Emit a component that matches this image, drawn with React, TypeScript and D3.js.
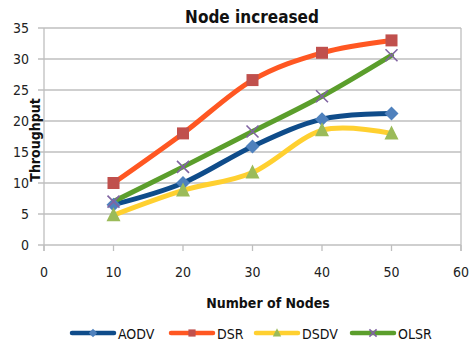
import React from "react";
import * as d3 from "d3";

const xValues = [10, 20, 30, 40, 50];
const aodv = [6.5, 10, 15.9, 20.3, 21.2];
const dsr = [10, 18, 26.6, 31, 33];
const dsdv = [4.8, 8.8, 11.7, 18.5, 18];
const olsr = [7, 12.6, 18.3, 24, 30.6];
const seriesNames = ["AODV", "DSR", "DSDV", "OLSR"];
const xTicks = [0, 10, 20, 30, 40, 50, 60];
const yTicks = [0, 5, 10, 15, 20, 25, 30, 35];

const W = 473, H = 346;
const FONT = "'DejaVu Sans Condensed', 'Liberation Sans', Arial, sans-serif";

const styles = [
  { line: "#0F4C8A", marker: "#4F81BD", shape: "diamond" },
  { line: "#FF5722", marker: "#C0504D", shape: "square" },
  { line: "#FFD030", marker: "#9BBB59", shape: "triangle" },
  { line: "#5B9E2C", marker: "#8064A2", shape: "x" },
];

function Marker({ x, y, shape, color, s = 1 }: { x: number; y: number; shape: string; color: string; s?: number }) {
  if (shape === "square") return <rect x={x - 6 * s} y={y - 6 * s} width={12 * s} height={12 * s} fill={color} />;
  if (shape === "diamond")
    return <path d={`M${x},${y - 7 * s}L${x + 7 * s},${y}L${x},${y + 7 * s}L${x - 7 * s},${y}Z`} fill={color} />;
  if (shape === "triangle")
    return <path d={`M${x},${y - 8 * s}L${x + 7 * s},${y + 6 * s}L${x - 7 * s},${y + 6 * s}Z`} fill={color} />;
  return (
    <path
      d={`M${x - 6 * s},${y - 6 * s}L${x + 6 * s},${y + 6 * s}M${x - 6 * s},${y + 6 * s}L${x + 6 * s},${y - 6 * s}`}
      stroke={color}
      strokeWidth={1.6}
      fill="none"
    />
  );
}

export default function App() {
  const x = d3.scaleLinear().domain([0, 60]).range([44, 461]);
  const y = d3.scaleLinear().domain([0, 35]).range([245, 28]);
  const data = [aodv, dsr, dsdv, olsr];
  const line = d3
    .line<number>()
    .x((_, i) => x(xValues[i]))
    .y((d) => y(d))
    .curve(d3.curveCardinal.tension(0));
  const legendX = [72, 171, 256, 352];
  return (
    <svg width={W} height={H} style={{ position: "absolute", left: 0, top: 0 }} fontFamily={FONT}>
      <rect width={W} height={H} fill="#fff" />
      {yTicks.map((t) => (
        <g key={t}>
          <line x1={38} x2={461} y1={y(t)} y2={y(t)} stroke="#BFBFBF" strokeWidth={1.3} />
          <text x={29} y={y(t) + 5} textAnchor="end" fontSize={14} fill="#222">{t}</text>
        </g>
      ))}
      <line x1={44} x2={44} y1={28} y2={251} stroke="#BFBFBF" strokeWidth={1.3} />
      <line x1={461} x2={461} y1={28} y2={251} stroke="#BFBFBF" strokeWidth={1.3} />
      {xTicks.map((t) => (
        <g key={t}>
          <line x1={x(t)} x2={x(t)} y1={245} y2={251} stroke="#BFBFBF" strokeWidth={1.3} />
          <text x={x(t)} y={277} textAnchor="middle" fontSize={14} fill="#222">{t}</text>
        </g>
      ))}
      <text x={252} y={23} textAnchor="middle" fontSize={17} fontWeight="bold" fill="#111">Node increased</text>
      <text x={268} y={308} textAnchor="middle" fontSize={14} fontWeight="bold" fill="#111">Number of Nodes</text>
      <text transform={`translate(40,140) rotate(-90)`} textAnchor="middle" fontSize={14} fontWeight="bold" fill="#111">Throughput</text>
      {data.map((s, i) => (
        <path key={i} d={line(s) || ""} fill="none" stroke={styles[i].line} strokeWidth={5} strokeLinecap="round" />
      ))}
      {data.map((s, i) =>
        s.map((v, j) => (
          <Marker key={`${i}-${j}`} x={x(xValues[j])} y={y(v)} shape={styles[i].shape} color={styles[i].marker} />
        ))
      )}
      {seriesNames.map((n, i) => (
        <g key={n}>
          <line x1={legendX[i]} x2={legendX[i] + 42} y1={333} y2={333} stroke={styles[i].line} strokeWidth={4.5} strokeLinecap="round" />
          <Marker x={legendX[i] + 21} y={333} shape={styles[i].shape} color={styles[i].marker} s={0.6} />
          <text x={legendX[i] + 46} y={339} fontSize={14} fill="#111">{n}</text>
        </g>
      ))}
    </svg>
  );
}
